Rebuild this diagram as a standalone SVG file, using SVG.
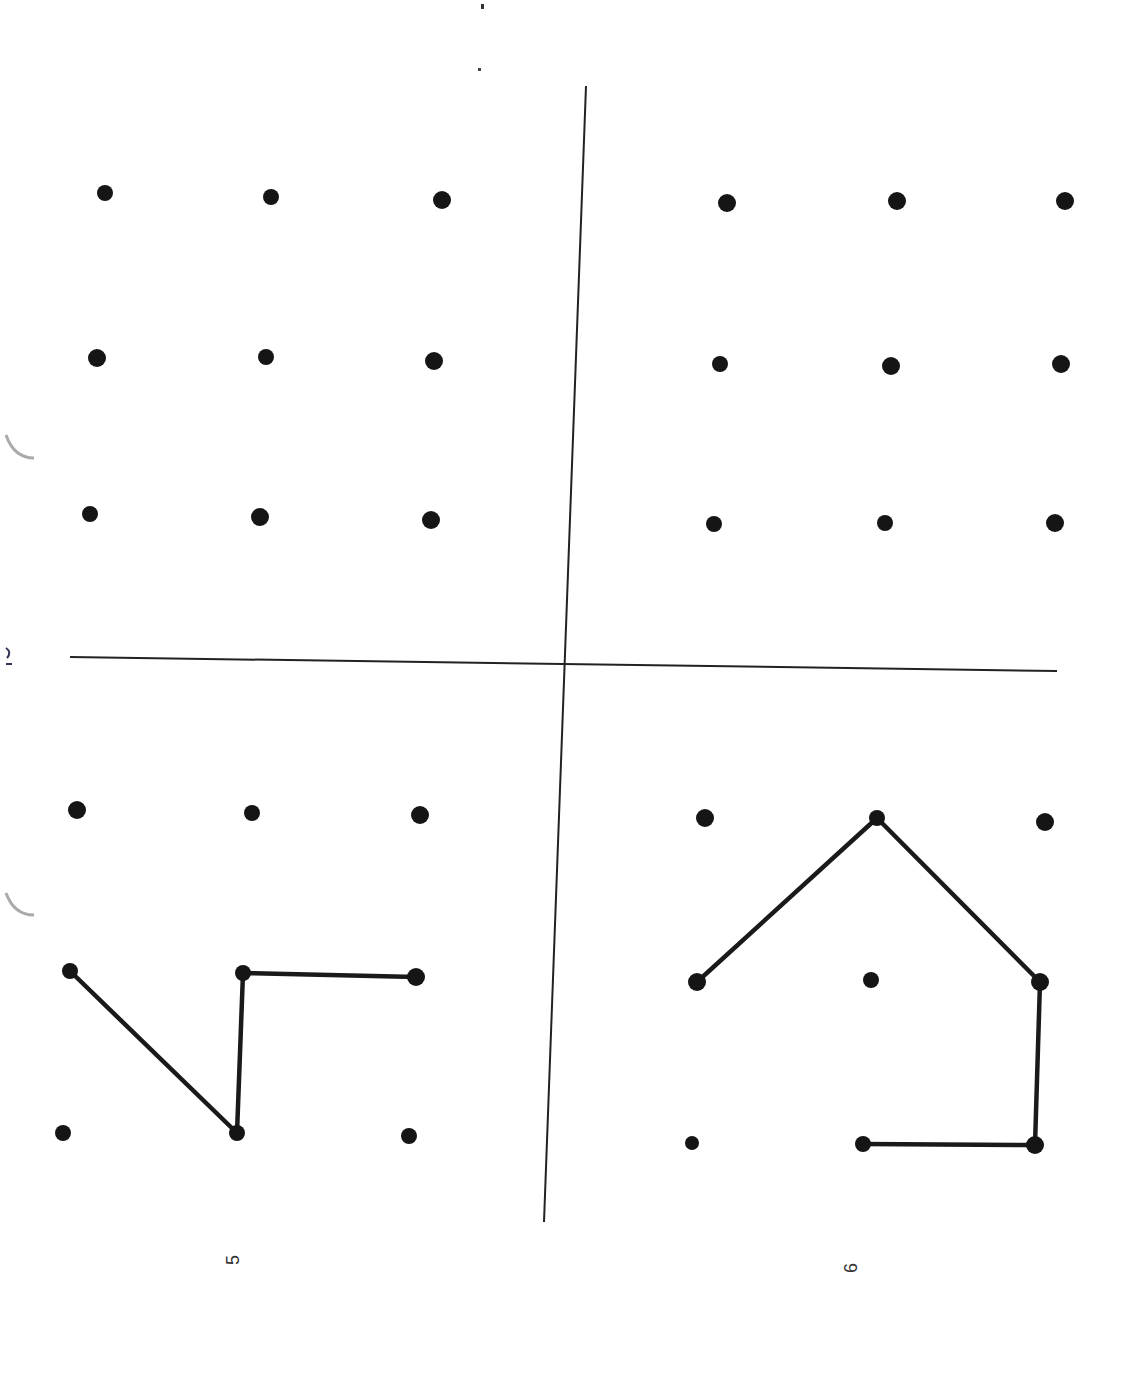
<svg xmlns="http://www.w3.org/2000/svg" width="1145" height="1393" viewBox="0 0 1145 1393">
<style>
.dot{fill:#151515}
.ln{stroke:#1a1a1a;stroke-width:4.5;fill:none;stroke-linecap:round;stroke-linejoin:round}
.div{stroke:#222;stroke-width:2;fill:none}
.lbl{font-family:"Liberation Sans",Arial,sans-serif;font-size:18px;fill:#333}
.mark{stroke:#aaa;stroke-width:3;fill:none}
</style>
<rect width="1145" height="1393" fill="#fff"/>
<g id="artifacts">
<path class="mark" d="M6 435 Q14 458 34 458"/>
<path class="mark" d="M6 893 Q14 915 34 915"/>
<path d="M6 648 Q12 652 7 658 M6 664 L12 664" stroke="#335" stroke-width="2" fill="none"/>
<rect x="481" y="4" width="3" height="5" fill="#333"/>
<rect x="478" y="68" width="3" height="3" fill="#444"/>
</g>
<g id="connectors">
<line class="div" x1="586" y1="86" x2="544" y2="1222"/>
<line class="div" x1="70" y1="657" x2="1057" y2="671"/>
<polyline class="ln" points="70,971 237,1133 243,973 416,977"/>
<polyline class="ln" points="697,982 877,818 1040,982 1035,1145 863,1144"/>
</g>
<g id="grid-tl">
<circle class="dot" cx="105" cy="193" r="8"/><circle class="dot" cx="271" cy="197" r="8"/><circle class="dot" cx="442" cy="200" r="9"/>
<circle class="dot" cx="97" cy="358" r="9"/><circle class="dot" cx="266" cy="357" r="8"/><circle class="dot" cx="434" cy="361" r="9"/>
<circle class="dot" cx="90" cy="514" r="8"/><circle class="dot" cx="260" cy="517" r="9"/><circle class="dot" cx="431" cy="520" r="9"/>
</g>
<g id="grid-tr">
<circle class="dot" cx="727" cy="203" r="9"/><circle class="dot" cx="897" cy="201" r="9"/><circle class="dot" cx="1065" cy="201" r="9"/>
<circle class="dot" cx="720" cy="364" r="8"/><circle class="dot" cx="891" cy="366" r="9"/><circle class="dot" cx="1061" cy="364" r="9"/>
<circle class="dot" cx="714" cy="524" r="8"/><circle class="dot" cx="885" cy="523" r="8"/><circle class="dot" cx="1055" cy="523" r="9"/>
</g>
<g id="grid-bl">
<circle class="dot" cx="77" cy="810" r="9"/><circle class="dot" cx="252" cy="813" r="8"/><circle class="dot" cx="420" cy="815" r="9"/>
<circle class="dot" cx="70" cy="971" r="8"/><circle class="dot" cx="243" cy="973" r="8"/><circle class="dot" cx="416" cy="977" r="9"/>
<circle class="dot" cx="63" cy="1133" r="8"/><circle class="dot" cx="237" cy="1133" r="8"/><circle class="dot" cx="409" cy="1136" r="8"/>
</g>
<g id="grid-br">
<circle class="dot" cx="705" cy="818" r="9"/><circle class="dot" cx="877" cy="818" r="8"/><circle class="dot" cx="1045" cy="822" r="9"/>
<circle class="dot" cx="697" cy="982" r="9"/><circle class="dot" cx="871" cy="980" r="8"/><circle class="dot" cx="1040" cy="982" r="9"/>
<circle class="dot" cx="692" cy="1143" r="7"/><circle class="dot" cx="863" cy="1144" r="8"/><circle class="dot" cx="1035" cy="1145" r="9"/>
</g>
<g id="label-5"><text class="lbl" transform="translate(239,1260) rotate(-90)" text-anchor="middle">5</text></g>
<g id="label-6"><text class="lbl" transform="translate(857,1268) rotate(-90)" text-anchor="middle">6</text></g>
</svg>
